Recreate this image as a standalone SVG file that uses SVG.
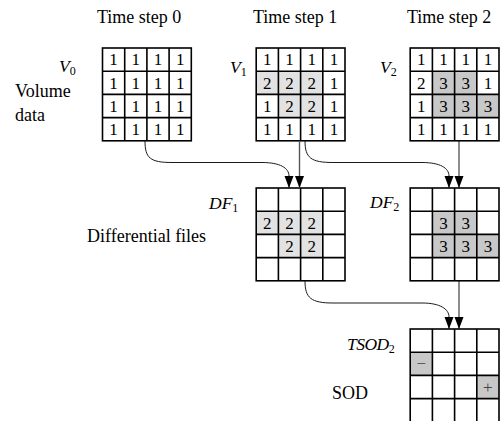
<svg xmlns="http://www.w3.org/2000/svg" xmlns:xlink="http://www.w3.org/1999/xlink" width="501" height="421" viewBox="0 0 501 421" font-family="'Liberation Serif', 'Times New Roman', serif">
<style>
text{font-family:'Liberation Serif','Times New Roman',serif;fill:#000}
.lbl{font-size:18px}
.it{font-size:17.5px;font-style:italic}
.sub{font-size:12px;font-style:normal}
.num{font-size:17px;text-anchor:middle}
.sgn{font-size:17px;text-anchor:middle;fill:#444}
.g{fill:none;stroke:#000;stroke-width:1.6}
.lt{fill:#e2e2e2}
.dk{fill:#c8c8c8}
.con{fill:none;stroke:#1a1a1a;stroke-width:1}
.vcon{fill:none;stroke:#555;stroke-width:1.4}
</style>
<defs>
<g id="grid"><rect class="g" x="0" y="0" width="88.8" height="92.8"/><path class="g" d="M22.2,0V92.8M44.4,0V92.8M66.6,0V92.8M0,23.2H88.8M0,46.4H88.8M0,69.6H88.8"/></g>
<marker id="arr" markerUnits="userSpaceOnUse" viewBox="0 0 12 10" markerWidth="12" markerHeight="10" refX="12" refY="5" orient="auto"><path d="M0,0.5L12,5L0,9.5z" fill="#000"/></marker>
</defs>
<g id="titles">
<text class="lbl" x="97" y="23">Time step 0</text>
<text class="lbl" x="253" y="23">Time step 1</text>
<text class="lbl" x="407" y="23">Time step 2</text>
<text class="lbl" x="15" y="97">Volume</text>
<text class="lbl" x="15" y="121">data</text>
<text class="lbl" x="87" y="242">Differential files</text>
<text class="lbl" x="332" y="399">SOD</text>
</g>
<g id="V0">
<text class="it" x="59" y="72">V<tspan class="sub" dy="3">0</tspan></text>
<use xlink:href="#grid" x="102.5" y="48"/>
<text class="num" x="113.6 135.8 158 180.2" y="65.4">1111</text>
<text class="num" x="113.6 135.8 158 180.2" y="88.6">1111</text>
<text class="num" x="113.6 135.8 158 180.2" y="111.8">1111</text>
<text class="num" x="113.6 135.8 158 180.2" y="135">1111</text>
</g>
<g id="V1">
<text class="it" x="230" y="73">V<tspan class="sub" dy="3">1</tspan></text>
<rect class="lt" x="256.2" y="71.2" width="66.6" height="23.2"/>
<rect class="lt" x="278.4" y="94.4" width="44.4" height="23.2"/>
<use xlink:href="#grid" x="256.2" y="48"/>
<text class="num" x="267.3 289.5 311.7 333.9" y="65.4">1111</text>
<text class="num" x="267.3 289.5 311.7 333.9" y="88.6">2221</text>
<text class="num" x="267.3 289.5 311.7 333.9" y="111.8">1221</text>
<text class="num" x="267.3 289.5 311.7 333.9" y="135">1111</text>
</g>
<g id="V2">
<text class="it" x="380" y="73">V<tspan class="sub" dy="3">2</tspan></text>
<rect class="dk" x="432.4" y="71.2" width="44.4" height="23.2"/>
<rect class="dk" x="432.4" y="94.4" width="66.6" height="23.2"/>
<use xlink:href="#grid" x="410.2" y="48"/>
<text class="num" x="421.3 443.5 465.7 487.9" y="65.4">1111</text>
<text class="num" x="421.3 443.5 465.7 487.9" y="88.6">2331</text>
<text class="num" x="421.3 443.5 465.7 487.9" y="111.8">1333</text>
<text class="num" x="421.3 443.5 465.7 487.9" y="135">1111</text>
</g>
<g id="DF1">
<text class="it" x="209" y="209">DF<tspan class="sub" dy="3">1</tspan></text>
<rect class="lt" x="256.2" y="211.2" width="66.6" height="23.2"/>
<rect class="lt" x="278.4" y="234.4" width="44.4" height="23.2"/>
<use xlink:href="#grid" x="256.2" y="188"/>
<text class="num" x="267.3 289.5 311.7" y="228.6">222</text>
<text class="num" x="289.5 311.7" y="251.8">22</text>
</g>
<g id="DF2">
<text class="it" x="370" y="208">DF<tspan class="sub" dy="3">2</tspan></text>
<rect class="dk" x="432.4" y="211.2" width="44.4" height="23.2"/>
<rect class="dk" x="432.4" y="234.4" width="66.6" height="23.2"/>
<use xlink:href="#grid" x="410.2" y="188"/>
<text class="num" x="443.5 465.7" y="228.6">33</text>
<text class="num" x="443.5 465.7 487.9" y="251.8">333</text>
</g>
<g id="TSOD2">
<text class="it" x="347" y="350" letter-spacing="-0.5">TSOD<tspan class="sub" dy="3">2</tspan></text>
<rect class="dk" x="410.2" y="352.2" width="22.2" height="23.2"/>
<rect class="dk" x="476.8" y="375.4" width="22.2" height="23.2"/>
<use xlink:href="#grid" x="410.2" y="329"/>
<text class="sgn" x="421.3" y="369.2">−</text>
<text class="sgn" x="487.9" y="392.6">+</text>
</g>
<g id="connectors">
<path class="con" marker-end="url(#arr)" d="M145,140.8C145,158 150,162.5 172,162.5L262,162.5C280,162.5 289,168 289,176L289,188"/>
<path class="vcon" marker-end="url(#arr)" d="M299.5,140.8V188"/>
<path class="con" marker-end="url(#arr)" d="M305,140.8C305,158 311,162.5 333,162.5L422,162.5C440,162.5 449,168 449,176L449,188"/>
<path class="con" marker-end="url(#arr)" d="M459,140.8V188"/>
<path class="con" marker-end="url(#arr)" d="M305,280.8C305,298 311,303 333,303L422,303C440,303 449,309 449,317L449,329"/>
<path class="con" marker-end="url(#arr)" d="M459,280.8V329"/>
</g>
</svg>
